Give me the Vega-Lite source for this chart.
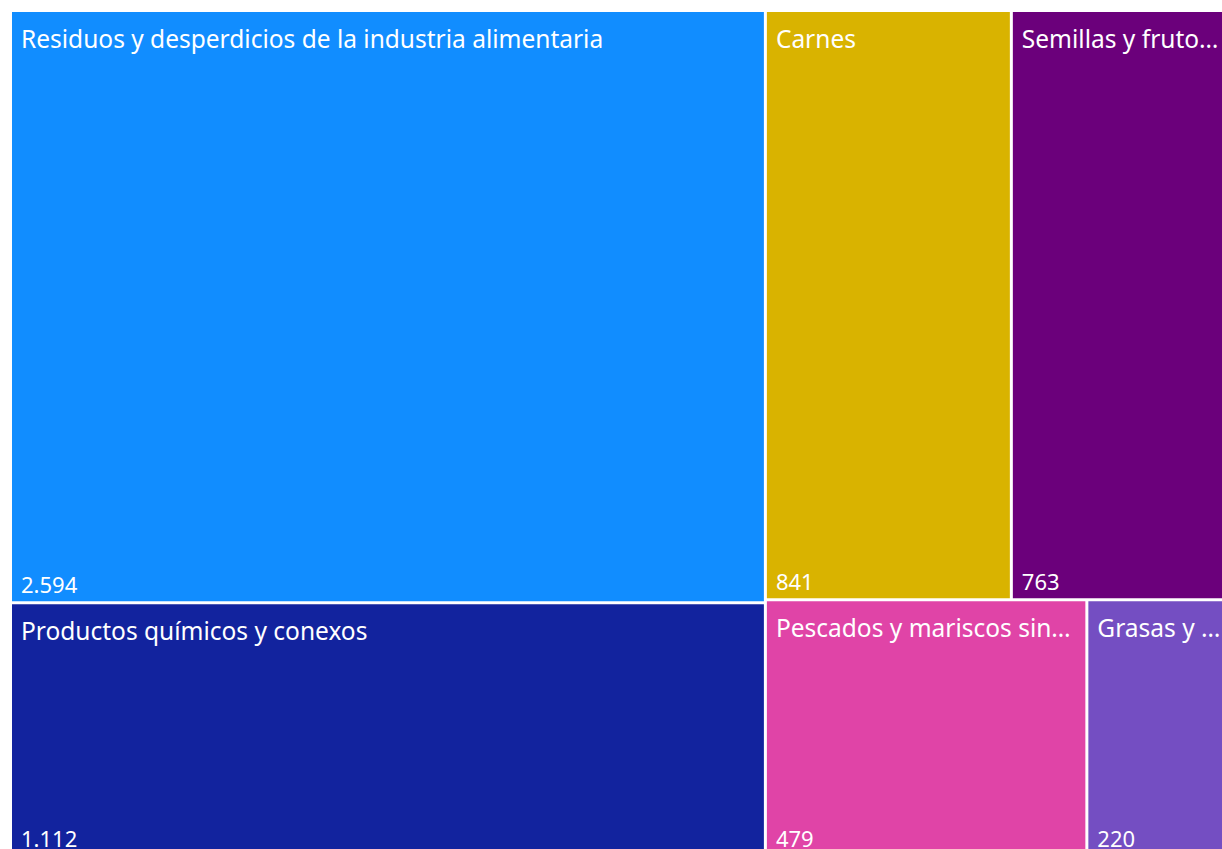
{
  "$schema": "https://vega.github.io/schema/vega-lite/v6.json",
  "width": 1210,
  "height": 837,
  "autosize": {"type": "none"},
  "padding": {"left": 12, "top": 12, "right": 0, "bottom": 0},
  "background": "white",
  "config": {
    "view": {"stroke": null},
    "locale": {"number": {"decimal": ",", "thousands": ".", "grouping": [3], "currency": ["", " €"]}}
  },
  "data": {
    "values": [
      {"rubro": "Residuos y desperdicios de la industria alimentaria", "valor": 2594, "bloque": 1, "fila": 1},
      {"rubro": "Productos químicos y conexos", "valor": 1112, "bloque": 1, "fila": 2},
      {"rubro": "Carnes", "valor": 841, "bloque": 2, "fila": 1},
      {"rubro": "Semillas y frutos oleaginosos", "valor": 763, "bloque": 2, "fila": 1},
      {"rubro": "Pescados y mariscos sin elaborar", "valor": 479, "bloque": 2, "fila": 2},
      {"rubro": "Grasas y aceites", "valor": 220, "bloque": 2, "fila": 2}
    ]
  },
  "transform": [
    {"window": [{"op": "sum", "field": "valor", "as": "cum"}], "sort": [{"field": "bloque", "order": "ascending"}, {"field": "fila", "order": "ascending"}, {"field": "valor", "order": "descending"}], "frame": [null, 0]},
    {"joinaggregate": [{"op": "sum", "field": "valor", "as": "total"}]},
    {"joinaggregate": [{"op": "sum", "field": "valor", "as": "bTot"}, {"op": "max", "field": "cum", "as": "bEnd"}], "groupby": ["bloque"]},
    {"joinaggregate": [{"op": "sum", "field": "valor", "as": "fTot"}, {"op": "max", "field": "cum", "as": "fEnd"}], "groupby": ["bloque", "fila"]},
    {"calculate": "(datum.bEnd - datum.bTot) / datum.total + (datum.cum - datum.valor - (datum.fEnd - datum.fTot)) / datum.fTot * datum.bTot / datum.total", "as": "x0"},
    {"calculate": "datum.x0 + datum.valor / datum.fTot * datum.bTot / datum.total", "as": "x1"},
    {"calculate": "(datum.fEnd - datum.fTot - (datum.bEnd - datum.bTot)) / datum.bTot", "as": "y0"},
    {"calculate": "datum.y0 + datum.fTot / datum.bTot", "as": "y1"}
  ],
  "encoding": {
    "x": {"field": "x0", "type": "quantitative", "axis": null, "scale": {"domain": [0, 0.98856], "nice": false, "zero": false}},
    "y": {"field": "y0", "type": "quantitative", "axis": null, "scale": {"domain": [0, 0.98936], "nice": false, "zero": false, "reverse": true}}
  },
  "layer": [
    {
      "mark": {"type": "rect", "clip": true, "x2Offset": -3, "y2Offset": -3},
      "encoding": {
        "x2": {"field": "x1"},
        "y2": {"field": "y1"},
        "color": {
          "field": "rubro", "type": "nominal", "legend": null,
          "scale": {
            "domain": ["Residuos y desperdicios de la industria alimentaria", "Productos químicos y conexos", "Carnes", "Semillas y frutos oleaginosos", "Pescados y mariscos sin elaborar", "Grasas y aceites"],
            "range": ["#118DFF", "#12239E", "#D9B300", "#6B007B", "#E044A7", "#744EC2"]
          }
        }
      }
    },
    {
      "mark": {"type": "text", "clip": true, "align": "left", "baseline": "alphabetic", "dx": 9, "dy": 36, "font": "Noto Sans", "fontSize": 24.5, "color": "white", "limit": {"expr": "(datum.x1 - datum.x0) * 1224 - 22"}},
      "encoding": {
        "text": {"field": "rubro"}
      }
    },
    {
      "mark": {"type": "text", "clip": true, "align": "left", "baseline": "alphabetic", "dx": 9, "dy": -11, "font": "Noto Sans", "fontSize": 22, "color": "white"},
      "encoding": {
        "y": {"field": "y1", "type": "quantitative"},
        "text": {"field": "valor", "type": "quantitative", "format": ",d"}
      }
    }
  ]
}
